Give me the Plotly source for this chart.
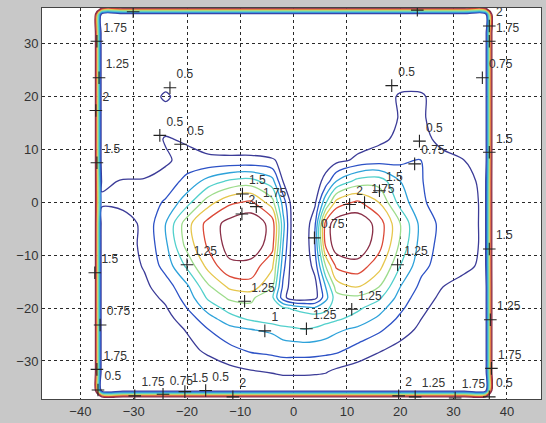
import plotly.graph_objects as go

# Grid node coordinates (data units). Outer nodes sit on the boundary wall.
x_nodes = [-37.4, -36, -32, -28, -24, -20, -16, -12, -8, -4, -2, 0, 2, 4, 6, 8,
           12, 16, 20, 24, 28, 32, 36, 37.4]
y_nodes_top_down = [37, 35.6, 32, 28, 24, 20, 16, 12, 8, 4, 0, -4, -8, -12, -16,
                    -18, -20, -22, -24, -28, -32, -35.6, -37]

wall_value = 2.6

# Interior field, rows from y=35.6 (top) to y=-35.6 (bottom),
# columns x = -36 ... 36 (22 values per row)
field_rows = [
    [0.3] * 22,                                                                                                 # 35.6
    [0.3] * 22,                                                                                                 # 32
    [0.3] * 22,                                                                                                 # 28
    [0.3] * 22,                                                                                                 # 24
    [0.3, 0.3, 0.3, 0.56, 0.3, 0.3, 0.3, 0.3, 0.3, 0.3, 0.3, 0.3, 0.3, 0.3, 0.3, 0.3, 0.3, 0.55, 0.55, 0.3, 0.3, 0.3],  # 20
    [0.3, 0.3, 0.3, 0.3, 0.3, 0.3, 0.3, 0.3, 0.3, 0.3, 0.3, 0.3, 0.3, 0.3, 0.3, 0.3, 0.35, 0.52, 0.55, 0.3, 0.3, 0.3],  # 16
    [0.3, 0.3, 0.3, 0.53, 0.45, 0.35, 0.3, 0.3, 0.3, 0.3, 0.3, 0.3, 0.3, 0.3, 0.3, 0.38, 0.45, 0.55, 0.58, 0.42, 0.3, 0.3],  # 12
    [0.3, 0.3, 0.32, 0.45, 0.62, 0.56, 0.56, 0.56, 0.52, 0.45, 0.3, 0.3, 0.3, 0.35, 0.42, 0.55, 0.62, 0.68, 0.76, 0.58, 0.5, 0.3],  # 8
    [0.45, 0.52, 0.53, 0.62, 0.82, 1.1, 1.3, 1.35, 1.1, 0.5, 0.3, 0.3, 0.35, 0.6, 1.0, 1.35, 1.4, 1.0, 0.76, 0.62, 0.56, 0.45],  # 4
    [0.55, 0.56, 0.62, 0.78, 1.15, 1.65, 1.95, 2.05, 1.6, 0.9, 0.3, 0.3, 0.45, 1.2, 1.85, 2.05, 1.75, 1.15, 0.78, 0.65, 0.58, 0.46],  # 0
    [0.32, 0.4, 0.55, 1.0, 1.65, 2.1, 2.35, 2.45, 2.15, 1.1, 0.3, 0.3, 0.7, 2.1, 2.4, 2.45, 2.15, 1.5, 0.9, 0.68, 0.58, 0.46],  # -4
    [0.3, 0.4, 0.55, 0.95, 1.6, 2.05, 2.35, 2.45, 2.1, 1.0, 0.3, 0.3, 0.75, 2.05, 2.4, 2.45, 2.1, 1.45, 0.88, 0.66, 0.58, 0.46],  # -8
    [0.3, 0.38, 0.52, 0.85, 1.3, 1.85, 2.2, 2.15, 1.8, 0.85, 0.3, 0.3, 0.6, 1.5, 2.05, 2.15, 1.85, 1.25, 0.82, 0.63, 0.55, 0.45],  # -12
    [0.3, 0.35, 0.45, 0.62, 0.95, 1.45, 1.8, 1.9, 1.5, 0.7, 0.3, 0.3, 0.4, 1.0, 1.6, 1.75, 1.5, 1.0, 0.68, 0.5, 0.42, 0.3],  # -16
    [0.3, 0.32, 0.4, 0.55, 0.85, 1.3, 1.55, 1.55, 1.3, 0.6, 0.3, 0.3, 0.4, 0.9, 1.4, 1.45, 1.3, 0.9, 0.6, 0.45, 0.35, 0.3],  # -18
    [0.3, 0.3, 0.35, 0.48, 0.75, 1.1, 1.35, 1.45, 1.45, 1.3, 1.2, 1.1, 1.05, 1.2, 1.35, 1.3, 1.1, 0.8, 0.55, 0.4, 0.32, 0.3],  # -20
    [0.3, 0.3, 0.33, 0.42, 0.62, 0.9, 1.15, 1.3, 1.45, 1.5, 1.5, 1.45, 1.4, 1.35, 1.3, 1.15, 0.95, 0.7, 0.5, 0.38, 0.3, 0.3],  # -22
    [0.3, 0.3, 0.32, 0.38, 0.52, 0.75, 0.92, 1.0, 1.05, 1.15, 1.2, 1.25, 1.22, 1.15, 1.05, 0.95, 0.8, 0.6, 0.45, 0.35, 0.3, 0.3],  # -24
    [0.3, 0.3, 0.3, 0.33, 0.42, 0.55, 0.68, 0.78, 0.82, 0.85, 0.85, 0.85, 0.84, 0.82, 0.8, 0.65, 0.52, 0.42, 0.35, 0.3, 0.3, 0.3],  # -28
    [0.3, 0.3, 0.3, 0.3, 0.3, 0.35, 0.42, 0.48, 0.52, 0.55, 0.55, 0.55, 0.54, 0.52, 0.45, 0.38, 0.32, 0.3, 0.3, 0.3, 0.3, 0.3],  # -32
    [0.3] * 22,                                                                                                 # -35.6
]

levels = [0.5, 0.75, 1.0, 1.25, 1.5, 1.75, 2.0, 2.25]
level_colors = ["#3c3c98", "#2d52c6", "#2ea2da", "#52d0cc",
                "#9edc8c", "#e6c64c", "#dc4a38", "#8a3048"]

# Contour label markers ("+") and their texts; markers on the top wall carry
# no visible text because their labels fall above the plotting area
label_x = [-36.9, -36.5, -37.1, -36.9, -37.3, -36.3, -36.9, -36.7,
           -29.8, -24.5, -20.4, -16.5, -11.4, 19.7, 22.8, 30.3, 36.7,
           37.1, 36.9, 36.7, 36.7, 35.4, 36.7, 36.7,
           -30.1, 23.2,
           -23.2, -25.1, -21.2, -9.6, -7.0, -9.7, -20.0, -9.2, -5.4, 2.4,
           3.9, 10.9, 10.5, 13.3, 16.1, 19.5, 18.4, 23.6, 22.7]
label_y = [30.5, 23.6, 17.4, 7.5, -13.3, -23.2, -31.6, -35.5,
           -36.6, -36.3, -35.8, -35.6, -36.8, -36.6, -36.8, -37.0, -36.8,
           -31.4, -22.2, -8.8, 9.5, 23.6, 30.5, 33.4,
           36.1, 36.4,
           21.7, 12.7, 11.0, 1.6, -0.8, -2.2, -11.8, -18.7, -24.3, -23.9,
           -6.7, -20.2, -0.4, 0.0, 2.2, -11.8, 22.1, 11.6, 7.3]
label_text = ["1.75", "1.25", "2", "1.5", "1.5", "0.75", "1.75", "0.5",
              "1.75", "0.75", "1.5", "0.5", "2", "2", "1.25", "1.75", "0.5",
              "1.75", "1.25", "1.5", "1.5", "0.75", "1.75", "2",
              "", "",
              "0.5", "0.5", "0.5", "1.5", "1.75", "2", "1.25", "1.25", "1", "1.25",
              "0.75", "1.25", "2", "1.75", "1.5", "1.25", "0.5", "0.5", "0.75"]

x_ticks = [-40, -30, -20, -10, 0, 10, 20, 30, 40]
y_ticks = [-30, -20, -10, 0, 10, 20, 30]

# Assemble the full grid: pad each interior row with the wall value and add wall rows
n_cols = len(x_nodes)
z_top_down = [[wall_value] * n_cols]
for row in field_rows:
    z_top_down.append([wall_value] + row + [wall_value])
z_top_down.append([wall_value] * n_cols)
y_nodes = y_nodes_top_down[::-1]
z = z_top_down[::-1]

lo, hi = levels[0], levels[-1]
colorscale = [[(lv - lo) / (hi - lo), c] for lv, c in zip(levels, level_colors)]

fig = go.Figure()
fig.add_trace(go.Contour(
    x=x_nodes, y=y_nodes, z=z,
    zmin=lo, zmax=hi, zauto=False,
    contours=dict(start=lo, end=hi, size=0.25, coloring="lines"),
    colorscale=colorscale, showscale=False,
    line=dict(width=1.3, smoothing=0.9),
    hoverinfo="skip",
))
fig.add_trace(go.Scatter(
    x=label_x, y=label_y, text=label_text,
    mode="markers+text",
    marker=dict(symbol="cross-thin", size=9, line=dict(width=1.1, color="#222222")),
    textposition="top right",
    textfont=dict(family="Liberation Sans, Arial, sans-serif", size=12, color="#333333"),
    cliponaxis=True,
    hoverinfo="skip",
    showlegend=False,
))

axis_common = dict(
    showgrid=True, gridcolor="#2a2a2a", gridwidth=1, griddash="3px,3px",
    zeroline=False, showline=True, linecolor="#444444", linewidth=1, mirror=True,
    ticks="", tickfont=dict(family="Liberation Sans, Arial, sans-serif", size=13, color="#333333"),
)

fig.update_layout(
    width=546, height=423,
    margin=dict(l=42, r=4, t=8, b=19, pad=0),
    paper_bgcolor="#c8c8c8",
    plot_bgcolor="white",
    showlegend=False,
    xaxis=dict(range=[-47.2, 46.4], tickvals=x_ticks, **axis_common),
    yaxis=dict(range=[-37.2, 36.8], tickvals=y_ticks, **axis_common),
)

fig.write_html("out.html")
